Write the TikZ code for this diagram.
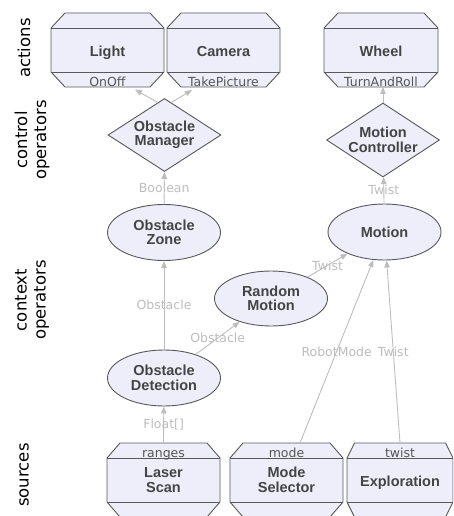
\documentclass[tikz,border=0pt]{standalone}
\usepackage{fontspec}
\setmainfont{Liberation Sans}
\newfontfamily\dejavu{DejaVu Sans}
\usetikzlibrary{shapes.geometric,arrows.meta,calc}
\definecolor{nodefill}{HTML}{EEEEFB}
\definecolor{nodeline}{HTML}{585858}
\definecolor{nodetext}{HTML}{444444}
\definecolor{edgecol}{HTML}{BDBDBD}
\definecolor{porttext}{HTML}{555555}
\tikzset{
  boxline/.style={draw=nodeline, line width=0.9pt, fill=nodefill, line join=miter},
  maintext/.style={font=\fontsize{14.5}{14.5}\selectfont\bfseries, text=nodetext, align=center, inner sep=0pt},
  oneline/.style={text height=10.4pt, text depth=0pt},
  porttxt/.style={font=\dejavu\fontsize{12.5}{13}\selectfont, text=porttext, inner sep=0pt},
  ell/.style={ellipse, draw=nodeline, line width=0.9pt, fill=nodefill, minimum width=113pt, minimum height=56pt, maintext},
  diam/.style={diamond, aspect=1.55, draw=nodeline, line width=0.9pt, fill=nodefill, minimum width=113pt, minimum height=73pt, maintext},
  edge/.style={draw=edgecol, line width=0.9pt, -{Triangle[length=7pt,width=5.5pt]}},
  elabel/.style={font=\dejavu\fontsize{12.5}{13}\selectfont, text=edgecol, inner sep=0pt},
  side/.style={font=\dejavu\fontsize{16.5}{19}\selectfont, text=black, align=center, rotate=90},
}
\newcommand\octbox[9]{%
  \pgfmathsetmacro\obA{#2+#5}%
  \pgfmathsetmacro\obB{#3-#5}%
  \pgfmathsetmacro\obC{#4+15}%
  \pgfmathsetmacro\obD{#4+59}%
  \pgfmathsetmacro\obE{#4+74}%
  \pgfmathsetmacro\obM{(#2+#3)/2}%
  \pgfmathsetmacro\obN{#4+37}%
  \pgfmathsetmacro\obW{#3-#2}%
  \draw[boxline] (\obA,#4) -- (\obB,#4) -- (#3,\obC) -- (#3,\obD) -- (\obB,\obE) -- (\obA,\obE) -- (#2,\obD) -- (#2,\obC) -- cycle;
  \draw[boxline,fill=none] (#2,\obC) -- (#3,\obC) (#2,\obD) -- (#3,\obD);
  \node[maintext,#7,minimum width=\obW pt,minimum height=44pt] (#1) at (\obM,\obN) {#6};
  \node[porttxt,anchor=base] (#1p) at (\obM,#9) {#8};
  \coordinate (#1t) at (\obM,#4);
  \coordinate (#1b) at (\obM,\obE);
}
\begin{document}
\begin{tikzpicture}[x=1pt,y=-1pt]
\useasboundingbox (0,0) rectangle (453,516);
\clip (0,0) rectangle (453,516);

% side labels
\node[side] (lact) at (24,48) {actions};
\node[side] (lctl) at (32,140) {control\\operators};
\node[side] (lctx) at (32,300) {context\\operators};
\node[side] (lsrc) at (24,475) {sources};

% actions
\octbox{light}{51}{164}{13}{14}{Light}{oneline,yshift=-1pt}{OnOff}{86.5}
\octbox{camera}{167}{280}{13}{14}{Camera}{oneline,yshift=-1pt}{TakePicture}{86.5}
\octbox{wheel}{324}{438}{13}{14}{Wheel}{oneline,yshift=-1pt}{TurnAndRoll}{86.5}

% sources
\octbox{laser}{107}{220}{443}{13}{Laser\\Scan}{}{ranges}{457}
\octbox{mode}{230}{343}{443}{13}{Mode\\Selector}{}{mode}{457}
\octbox{explo}{347}{453}{443}{7.5}{Exploration}{oneline,yshift=-1pt}{twist}{457}

% control operators
\node[diam] (om) at (164.5,135) {Obstacle\\Manager};
\node[diam, minimum height=74pt] (mc) at (383,140) {Motion\\Controller};

% context operators
\node[ell] (oz) at (164,232.5) {Obstacle\\Zone};
\node[ell] (motion) at (384.5,232) {Motion};
\node[ell, minimum height=55pt] (rm) at (271,298.5) {Random\\Motion};
\node[ell] (od) at (164,378) {Obstacle\\Detection};

% connector ends
\coordinate (lightin) at (135,89.5);
\coordinate (camin) at (192,90);
\coordinate (msout) at (300,443);
\coordinate (exout) at (400,443);

% connectors
\draw[edge] ($(om.north)!0.12!(om.west)$) -- (lightin);
\draw[edge] ($(om.north)!0.12!(om.east)$) -- (camin);
\draw[edge] (mc.north) -- (mc.north |- wheelb);
\draw[edge] (oz) -- node[elabel]{Boolean} (om);
\draw[edge] (motion) -- node[elabel]{Twist} (mc);
\draw[edge] (od) -- node[elabel]{Obstacle} (oz);
\draw[edge] (od) -- node[elabel]{Obstacle} (rm);
\draw[edge] (rm) -- node[elabel]{Twist} (motion);
\draw[edge] (lasert) -- node[elabel]{Float[]} (od);
\draw[edge] (msout) -- node[elabel]{RobotMode} (motion);
\draw[edge] (exout) -- node[elabel]{Twist} (motion);
\end{tikzpicture}
\end{document}
